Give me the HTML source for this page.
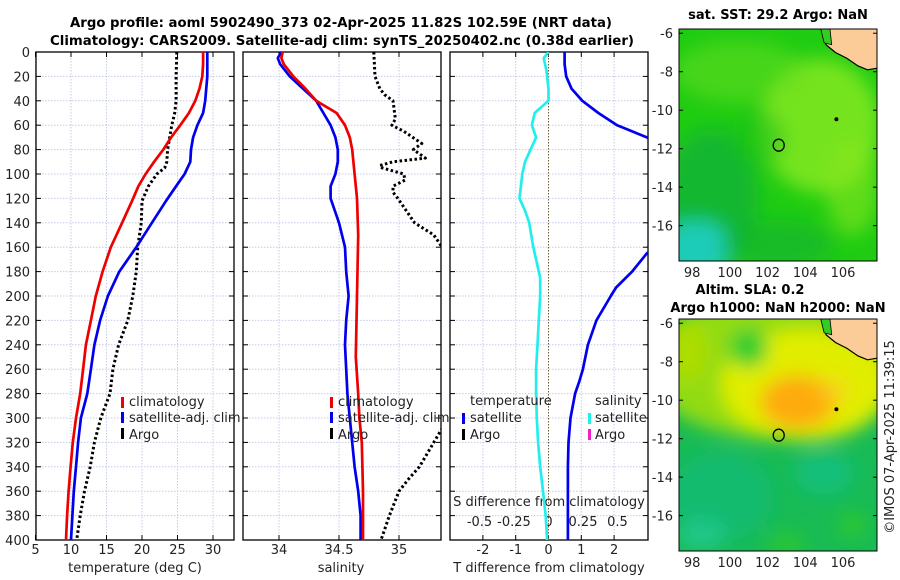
<!DOCTYPE html>
<html><head><meta charset="utf-8"><style>
html,body{margin:0;padding:0;background:#fff;}
svg{display:block;font-family:"DejaVu Sans","Liberation Sans",sans-serif;}
</style></head><body>
<svg id="chart" width="900" height="580" viewBox="0 0 900 580" xmlns="http://www.w3.org/2000/svg">
<defs>
<filter id="blur1" x="-50%" y="-50%" width="200%" height="200%"><feGaussianBlur stdDeviation="9"/></filter>
<clipPath id="clipP1"><rect x="36" y="52" width="198" height="488"/></clipPath>
<clipPath id="clipP2"><rect x="243" y="52" width="198" height="488"/></clipPath>
<clipPath id="clipP3"><rect x="450" y="52" width="198" height="488"/></clipPath>
<clipPath id="clipM1"><rect x="679" y="29" width="198" height="232"/></clipPath>
<clipPath id="clipM2"><rect x="679" y="319" width="198" height="232"/></clipPath>
</defs>
<text x="341" y="27" text-anchor="middle" font-weight="bold" font-size="13" textLength="542" lengthAdjust="spacingAndGlyphs">Argo profile: aoml 5902490_373 02-Apr-2025 11.82S 102.59E (NRT data)</text>
<text x="342" y="45" text-anchor="middle" font-weight="bold" font-size="13" textLength="584" lengthAdjust="spacingAndGlyphs">Climatology: CARS2009. Satellite-adj clim: synTS_20250402.nc (0.38d earlier)</text>
<g id="panels"></g>
<g id="maps"></g>
<text transform="translate(894,437) rotate(-90)" text-anchor="middle" font-size="13" fill="#222">©IMOS 07-Apr-2025 11:39:15</text>
</svg>
<script>
// ---- data ----
const tempDepthClim = [0,10,20,30,40,50,60,70,80,90,100,110,122,140,160,180,200,220,240,260,280,300,320,340,360,380,400];
const tempClim = [28.6,28.6,28.5,28.1,27.5,26.6,25.4,24.1,23.0,21.7,20.5,19.5,18.6,17.2,15.6,14.45,13.5,12.8,12.1,11.7,11.3,10.7,10.25,9.95,9.66,9.45,9.3];
const tempDepthSat = [0,20,40,50,60,70,80,90,100,110,122,140,160,180,200,220,240,260,280,300,320,340,360,380,400];
const tempSat = [29.2,29.2,28.9,28.6,27.8,27.2,26.9,26.8,26.0,24.8,23.4,21.4,19.2,16.8,15.2,14.1,13.3,12.8,12.3,11.4,11.0,10.7,10.4,10.2,10.0];
const tempDepthArgo = [0,20,40,50,60,70,80,90,95,100,110,122,140,160,180,200,220,240,260,280,300,320,340,360,380,400];
const tempArgo = [24.9,24.8,24.8,24.6,24.2,23.9,23.6,23.5,23.2,22.1,20.9,20.0,19.9,19.4,19.2,18.7,18.0,16.7,15.9,15.5,14.2,13.3,12.7,11.9,11.3,10.8];

const salDepthClim = [0,5,10,20,30,40,50,60,70,80,100,120,150,200,250,280,300,320,360,400];
const salClim = [34.03,34.02,34.04,34.12,34.22,34.31,34.48,34.55,34.59,34.61,34.63,34.65,34.66,34.65,34.64,34.66,34.67,34.69,34.70,34.70];
const salDepthSat = [0,5,10,20,30,40,50,60,70,80,90,100,110,120,140,160,180,200,220,240,260,280,300,320,340,360,380,400];
const salSat = [34.02,33.99,34.01,34.09,34.20,34.31,34.37,34.43,34.47,34.49,34.49,34.47,34.43,34.43,34.50,34.55,34.56,34.58,34.56,34.55,34.56,34.57,34.59,34.61,34.63,34.66,34.68,34.68];
const salDepthArgo = [0,20,30,35,40,55,60,65,75,80,87,90,93,95,100,105,110,115,120,130,140,150,160,200,250,300,310,320,340,350,360,380,400];
const salArgo = [34.79,34.80,34.84,34.88,34.95,34.97,34.94,35.04,35.19,35.12,35.22,34.95,34.84,34.86,35.04,35.05,34.95,34.95,34.99,35.06,35.13,35.29,35.36,35.6,35.7,35.42,35.35,35.29,35.17,35.08,35.00,34.92,34.85];

const dDepthT = [0,10,20,30,40,50,60,70,80,130,160,165,180,193,200,220,240,260,270,280,300,320,340,400];
const dTempSat = [0.49,0.49,0.54,0.70,1.03,1.52,2.09,3.0,3.6,4.0,3.3,3.0,2.55,2.06,1.9,1.46,1.2,1.05,0.94,0.81,0.67,0.61,0.59,0.59];
const dDepthS = [0,5,15,20,30,40,45,50,60,70,80,90,100,110,120,130,140,160,170,180,185,200,220,240,260,280,300,320,340,360,380,400];
const dSalSat = [0.0,-0.035,-0.015,-0.01,0.0,0.0,-0.05,-0.10,-0.12,-0.09,-0.13,-0.17,-0.19,-0.20,-0.21,-0.17,-0.14,-0.11,-0.09,-0.07,-0.06,-0.06,-0.07,-0.08,-0.09,-0.09,-0.085,-0.075,-0.06,-0.04,-0.02,-0.01];

const depthTicks = [0,20,40,60,80,100,120,140,160,180,200,220,240,260,280,300,320,340,360,380,400];
const tempTicks = [5,10,15,20,25,30];
const salTicks = [34,34.5,35];
const salTickLabels = ["34","34.5","35"];
const dTTicks = [-2,-1,0,1,2];
const dSTicks = [-0.5,-0.25,0,0.25,0.5];
const dSTickLabels = ["-0.5","-0.25","0","0.25","0.5"];
const latTicks = [-6,-8,-10,-12,-14,-16];
const lonTicks = [98,100,102,104,106];

// ---- helpers ----
const NS = "http://www.w3.org/2000/svg";
function mk(tag, attrs, parent){ const e=document.createElementNS(NS,tag); for(const k in attrs) e.setAttribute(k,attrs[k]); if(parent) parent.appendChild(e); return e; }
const yD = d => 52 + d*(488/400);
const xT = t => 35.5 + (t-5)*7.1;
const xS = s => 279 + (s-34)*120;
const xDT = v => 548.5 + v*32.8;
const xDS = v => 548.5 + v*138;

const root = document.getElementById('panels');

function panelFrame(x0, name){
  const g = mk('g',{},root);
  
  
  return g;
}
function gridAndFrame(g, x0, xs){
  depthTicks.forEach(d=>{
    const l = mk('line',{x1:x0,x2:x0+198,y1:yD(d),y2:yD(d),stroke:'#c6cbe6','stroke-width':1,'stroke-dasharray':'1.5,1.5'},g);
    
    
  });
  xs.forEach(x=>{
    const l = mk('line',{x1:x,x2:x,y1:52,y2:540,stroke:'#c6cbe6','stroke-width':1,'stroke-dasharray':'1.5,1.5'},g);
    
    
  });
  depthTicks.forEach(d=>{
    mk('line',{x1:x0,x2:x0+5,y1:yD(d),y2:yD(d),stroke:'#000','stroke-width':1},g);
    mk('line',{x1:x0+198-5,x2:x0+198,y1:yD(d),y2:yD(d),stroke:'#000','stroke-width':1},g);
  });
  xs.forEach(x=>{
    mk('line',{x1:x,x2:x,y1:540,y2:535,stroke:'#000','stroke-width':1},g);
    mk('line',{x1:x,x2:x,y1:52,y2:57,stroke:'#000','stroke-width':1},g);
  });
  const r = mk('rect',{x:x0,y:52,width:198,height:488,fill:'none',stroke:'#000','stroke-width':1.3},g);
  
  
}
function profile(g, depths, vals, xf, color, clip, dotted, name){
  const pts = depths.map((d,i)=> xf(vals[i]).toFixed(1)+','+yD(d).toFixed(1)).join(' ');
  const attrs = {points:pts,fill:'none',stroke:color,'stroke-width':dotted?3:2.7,'stroke-linejoin':'round','clip-path':'url(#'+clip+')'};
  if(dotted){ attrs['stroke-dasharray']='2.5,2.5'; }
  const p = mk('polyline',attrs,g);
  
  
}
function txt(g, x, y, s, anchor, size, name, fill){
  const t = mk('text',{x:x,y:y,'text-anchor':anchor||'start','font-size':size||13,fill:fill||'#222'},g);
  t.textContent = s;
  
  
  return t;
}
function legendBar(g,x,y,color,name){
  const r = mk('rect',{x:x,y:y-11,width:3,height:11,fill:color},g);
  
  
}

// Panel 1: temperature
const p1 = panelFrame(36,'temperature-panel');
gridAndFrame(p1, 36, tempTicks.map(xT));
depthTicks.forEach(d=> txt(p1, 30, yD(d)+5, String(d), 'end', 13, 'y-tick-label'));
tempTicks.forEach(t=> txt(p1, xT(t), 554, String(t), 'middle', 13, 'x-tick-label'));
txt(p1, 135, 572, 'temperature (deg C)', 'middle', 13, 'x-axis-title');
profile(p1, tempDepthArgo, tempArgo, xT, '#000', 'clipP1', true, 'temp-argo-line');
profile(p1, tempDepthSat, tempSat, xT, '#0000ee', 'clipP1', false, 'temp-satellite-line');
profile(p1, tempDepthClim, tempClim, xT, '#ee0000', 'clipP1', false, 'temp-climatology-line');
legendBar(p1,121,408,'#ee0000','legend-swatch-climatology'); txt(p1,129,406,'climatology','start',13,'legend-entry-climatology');
legendBar(p1,121,423,'#0000ee','legend-swatch-satellite'); txt(p1,129,422,'satellite-adj. clim','start',13,'legend-entry-satellite');
legendBar(p1,121,439,'#000','legend-swatch-argo'); txt(p1,129,439,'Argo','start',13,'legend-entry-argo');

// Panel 2: salinity
const p2 = panelFrame(243,'salinity-panel');
gridAndFrame(p2, 243, salTicks.map(xS));
salTicks.forEach((s,i)=> txt(p2, xS(s), 554, salTickLabels[i], 'middle', 13, 'x-tick-label'));
txt(p2, 341, 572, 'salinity', 'middle', 13, 'x-axis-title');
profile(p2, salDepthArgo, salArgo, xS, '#000', 'clipP2', true, 'sal-argo-line');
profile(p2, salDepthSat, salSat, xS, '#0000ee', 'clipP2', false, 'sal-satellite-line');
profile(p2, salDepthClim, salClim, xS, '#ee0000', 'clipP2', false, 'sal-climatology-line');
legendBar(p2,330,408,'#ee0000','legend-swatch-climatology'); txt(p2,338,406,'climatology','start',13,'legend-entry-climatology');
legendBar(p2,330,423,'#0000ee','legend-swatch-satellite'); txt(p2,338,422,'satellite-adj. clim','start',13,'legend-entry-satellite');
legendBar(p2,330,439,'#000','legend-swatch-argo'); txt(p2,338,439,'Argo','start',13,'legend-entry-argo');

// Panel 3: differences
const p3 = panelFrame(450,'difference-panel');
gridAndFrame(p3, 450, dTTicks.map(xDT));
mk('line',{x1:xDT(0),x2:xDT(0),y1:52,y2:540,stroke:'#6b5a3a','stroke-width':1,'stroke-dasharray':'1.5,1.5'},p3);
dTTicks.forEach(t=> txt(p3, xDT(t), 554, String(t), 'middle', 13, 'x-tick-label'));
txt(p3, 549, 572, 'T difference from climatology', 'middle', 13, 'x-axis-title');
txt(p3, 549, 506, 'S difference from climatology', 'middle', 13, 'secondary-x-axis-title');
dSTicks.forEach((s,i)=> txt(p3, xDS(s), 526, dSTickLabels[i], 'middle', 13, 'secondary-x-tick-label'));
profile(p3, dDepthS, dSalSat, xDS, '#22eeee', 'clipP3', false, 'sal-diff-satellite-line');
profile(p3, dDepthT, dTempSat, xDT, '#0000ee', 'clipP3', false, 'temp-diff-satellite-line');
txt(p3,470,405,'temperature','start',13,'legend-title-temperature');
legendBar(p3,462,424,'#0000ee','legend-swatch-temp-satellite'); txt(p3,470,422,'satellite','start',13,'legend-entry-temp-satellite');
legendBar(p3,462,440,'#000','legend-swatch-temp-argo'); txt(p3,470,439,'Argo','start',13,'legend-entry-temp-argo');
txt(p3,595,405,'salinity','start',13,'legend-title-salinity');
legendBar(p3,588,424,'#22eeee','legend-swatch-sal-satellite'); txt(p3,595,422,'satellite','start',13,'legend-entry-sal-satellite');
legendBar(p3,588,440,'#ee22cc','legend-swatch-sal-argo'); txt(p3,595,439,'Argo','start',13,'legend-entry-sal-argo');

// ---- maps ----
const mroot = document.getElementById('maps');
function drawMap(top, name, blobs, clip, titleLines){
  const g = mk('g',{},mroot);
  
  
  const latTop = -5.78, latPx = 19.24;
  const xL = lon => 679 + (lon-97.3)*18.85;
  const yL = lat => top + (latTop - lat)*latPx;
  const cg = mk('g',{'clip-path':'url(#'+clip+')'},g);
  mk('rect',{x:679,y:top,width:198,height:232,fill:blobs.base},cg);
  const bg = mk('g',{filter:'url(#blur1)'},cg);
  blobs.list.forEach(b=>{
    mk('ellipse',{cx:xL(b[0]),cy:yL(b[1]),rx:b[2]*18.85,ry:b[3]*19.24,fill:b[4],opacity:b[5]},bg);
  });
  const land = [[104.9,-5.6],[105.1,-6.6],[105.6,-7.0],[106.2,-7.3],[106.8,-7.7],[107.3,-7.9],[107.9,-7.8],[107.9,-5.6]];
  const lp = mk('polygon',{points:land.map(p=>xL(p[0])+','+yL(p[1])).join(' '),fill:'#fbcb98',stroke:'#000','stroke-width':1.2},cg);
  
  
  mk('polygon',{points:[[104.8,-5.7],[105.0,-6.5],[105.4,-6.6],[105.3,-5.7]].map(p=>xL(p[0])+','+yL(p[1])).join(' '),fill:'#33cc22',stroke:'#000','stroke-width':0.8},cg);
  mk('circle',{cx:xL(105.65),cy:yL(-10.47),r:2,fill:'#000'},cg);
  const c = mk('ellipse',{cx:xL(102.59),cy:yL(-11.82),rx:5.5,ry:6,fill:'none',stroke:'#000','stroke-width':1.3},cg);
  
  
  mk('rect',{x:679,y:top,width:198,height:232,fill:'none',stroke:'#000','stroke-width':1},g);
  latTicks.forEach(l=>{
    txt(g, 673, yL(l)+5, String(l), 'end', 13, 'map-lat-label');
    mk('line',{x1:679,x2:683,y1:yL(l),y2:yL(l),stroke:'#000'},g);
    mk('line',{x1:873,x2:877,y1:yL(l),y2:yL(l),stroke:'#000'},g);
  });
  lonTicks.forEach(l=>{
    txt(g, xL(l), top+248, String(l), 'middle', 13, 'map-lon-label');
  });
  titleLines.forEach(t=>{
    const tt = txt(g, t[1], t[2], t[0], 'middle', 13, 'map-title', '#000');
    tt.setAttribute('font-weight','bold');
  });
  return g;
}
drawMap(29,'sst-map',{base:'#1fcc12',list:[
  [104.8,-10.8,3.2,3.5,'#99ee22',0.7],
  [100.5,-8.0,3.5,1.6,'#66dd22',0.55],
  [106.5,-14,1.4,2.5,'#88e622',0.6],
  [99,-14.5,2.5,3.5,'#14b03a',0.75],
  [98.2,-17.2,2.0,1.5,'#20ccc0',0.95],
  [102.5,-17,3,1.3,'#12b030',0.6],
  [101.5,-11.5,1.5,1.5,'#18c018',0.5]
]},'clipM1',[['sat. SST: 29.2 Argo: NaN',778,19]]);
drawMap(319,'sla-map',{base:'#18bb55',list:[
  [102.5,-8.2,7.0,3.8,'#99dd11',0.95],
  [104.0,-9.2,4.5,2.9,'#e6ee00',0.95],
  [103.6,-10.1,2.0,1.4,'#ffa811',0.95],
  [105.5,-9.5,0.8,0.7,'#ffcc22',0.6],
  [101,-7.3,1.0,1.0,'#22cc33',0.95],
  [97.8,-7.5,1,1.5,'#bbdd00',0.7],
  [99.5,-15.0,2.8,2.3,'#14bb7a',0.7],
  [105,-13.8,1.6,1.1,'#12c08a',0.7],
  [98.5,-17,1.3,0.8,'#22cc99',0.7],
  [103,-17.5,1,0.6,'#33cc22',0.7],
  [106.5,-16.5,0.8,0.7,'#33cc22',0.7]
]},'clipM2',[['Altim. SLA: 0.2',750,294],['Argo h1000: NaN h2000: NaN',778,312]]);
</script>
</body></html>
